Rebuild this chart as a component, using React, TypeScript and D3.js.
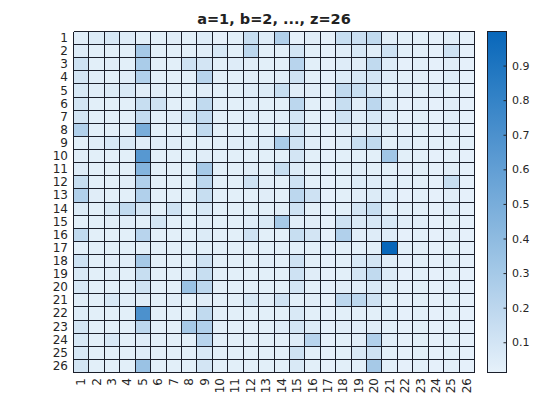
import React from "react";
import * as d3 from "d3";

const letters = d3.range(1, 27).map(String);
const titleText = "a=1, b=2, ..., z=26";
const colorTicks = [0.1, 0.2, 0.3, 0.4, 0.5, 0.6, 0.7, 0.8, 0.9];
const colorDomain = [0.014, 1.0];

// rows = first letter, columns = second letter
const r01 = [0.04,0.06,0.08,0.05,0.03,0.03,0.04,0.03,0.05,0.02,0.03,0.15,0.05,0.25,0.02,0.04,0.02,0.15,0.14,0.18,0.04,0.03,0.03,0.02,0.04,0.02];
const r02 = [0.05,0.03,0.03,0.03,0.30,0.03,0.03,0.03,0.04,0.08,0.03,0.20,0.03,0.03,0.10,0.03,0.02,0.04,0.08,0.04,0.12,0.03,0.03,0.02,0.12,0.02];
const r03 = [0.12,0.03,0.04,0.03,0.28,0.03,0.03,0.12,0.10,0.03,0.05,0.04,0.03,0.03,0.22,0.03,0.02,0.05,0.04,0.18,0.05,0.02,0.03,0.02,0.04,0.02];
const r04 = [0.10,0.04,0.03,0.04,0.25,0.03,0.03,0.03,0.22,0.03,0.03,0.04,0.03,0.04,0.12,0.03,0.02,0.06,0.08,0.10,0.05,0.03,0.03,0.02,0.05,0.02];
const r05 = [0.08,0.04,0.06,0.07,0.04,0.04,0.03,0.03,0.04,0.03,0.03,0.05,0.06,0.15,0.04,0.04,0.02,0.18,0.15,0.08,0.03,0.04,0.03,0.04,0.03,0.02];
const r06 = [0.10,0.03,0.03,0.03,0.15,0.12,0.03,0.03,0.18,0.03,0.03,0.04,0.03,0.03,0.20,0.03,0.02,0.15,0.04,0.20,0.06,0.02,0.03,0.02,0.04,0.02];
const r07 = [0.10,0.03,0.03,0.03,0.17,0.03,0.04,0.10,0.17,0.03,0.03,0.05,0.03,0.04,0.10,0.03,0.02,0.12,0.05,0.08,0.05,0.02,0.03,0.02,0.04,0.02];
const r08 = [0.25,0.03,0.03,0.03,0.50,0.03,0.03,0.03,0.18,0.03,0.03,0.03,0.03,0.03,0.10,0.03,0.02,0.04,0.04,0.06,0.04,0.02,0.03,0.02,0.04,0.02];
const r09 = [0.03,0.04,0.08,0.07,0.04,0.04,0.04,0.03,0.03,0.03,0.04,0.05,0.06,0.28,0.12,0.04,0.02,0.05,0.15,0.18,0.03,0.05,0.03,0.03,0.03,0.03];
const r10 = [0.04,0.03,0.03,0.03,0.65,0.03,0.03,0.03,0.04,0.03,0.03,0.03,0.03,0.03,0.10,0.03,0.02,0.03,0.03,0.03,0.32,0.03,0.03,0.02,0.03,0.02];
const r11 = [0.05,0.03,0.03,0.03,0.45,0.03,0.03,0.03,0.30,0.03,0.03,0.04,0.03,0.15,0.06,0.03,0.02,0.03,0.04,0.03,0.03,0.02,0.03,0.02,0.04,0.02];
const r12 = [0.15,0.03,0.03,0.04,0.25,0.03,0.03,0.03,0.20,0.03,0.03,0.12,0.04,0.03,0.12,0.03,0.02,0.03,0.06,0.05,0.04,0.03,0.03,0.02,0.15,0.02];
const r13 = [0.25,0.04,0.03,0.03,0.25,0.03,0.03,0.03,0.15,0.03,0.03,0.03,0.04,0.03,0.20,0.12,0.02,0.03,0.04,0.06,0.05,0.02,0.03,0.02,0.04,0.02];
const r14 = [0.06,0.03,0.08,0.18,0.10,0.03,0.12,0.03,0.08,0.03,0.03,0.03,0.03,0.04,0.12,0.03,0.02,0.03,0.10,0.15,0.04,0.03,0.03,0.02,0.05,0.02];
const r15 = [0.03,0.03,0.04,0.04,0.03,0.10,0.03,0.03,0.04,0.03,0.03,0.05,0.07,0.30,0.04,0.04,0.02,0.12,0.07,0.08,0.08,0.04,0.04,0.02,0.03,0.02];
const r16 = [0.18,0.03,0.03,0.03,0.22,0.03,0.03,0.03,0.06,0.03,0.03,0.12,0.03,0.03,0.15,0.10,0.02,0.25,0.04,0.05,0.05,0.02,0.03,0.02,0.04,0.02];
const r17 = [0.03,0.03,0.03,0.03,0.03,0.03,0.03,0.03,0.03,0.03,0.03,0.03,0.03,0.03,0.03,0.03,0.02,0.03,0.03,0.03,1.00,0.03,0.03,0.02,0.03,0.02];
const r18 = [0.12,0.03,0.04,0.04,0.30,0.03,0.03,0.03,0.12,0.03,0.03,0.03,0.04,0.03,0.12,0.03,0.02,0.03,0.08,0.10,0.04,0.02,0.03,0.02,0.04,0.02];
const r19 = [0.07,0.03,0.04,0.03,0.15,0.03,0.03,0.05,0.15,0.03,0.03,0.03,0.03,0.03,0.12,0.04,0.02,0.03,0.10,0.18,0.06,0.02,0.03,0.02,0.03,0.02];
const r20 = [0.08,0.03,0.03,0.03,0.12,0.03,0.03,0.35,0.20,0.03,0.03,0.03,0.03,0.03,0.10,0.03,0.02,0.04,0.04,0.07,0.04,0.02,0.03,0.02,0.04,0.02];
const r21 = [0.04,0.03,0.08,0.04,0.04,0.03,0.04,0.03,0.04,0.03,0.03,0.08,0.04,0.12,0.03,0.04,0.02,0.20,0.20,0.12,0.03,0.02,0.03,0.02,0.03,0.02];
const r22 = [0.05,0.03,0.03,0.03,0.70,0.03,0.03,0.03,0.18,0.03,0.03,0.03,0.03,0.03,0.07,0.03,0.02,0.03,0.03,0.03,0.03,0.02,0.03,0.02,0.03,0.02];
const r23 = [0.10,0.03,0.03,0.03,0.20,0.03,0.03,0.30,0.25,0.03,0.03,0.03,0.03,0.05,0.10,0.06,0.02,0.04,0.04,0.04,0.03,0.02,0.03,0.02,0.03,0.02];
const r24 = [0.08,0.03,0.08,0.03,0.05,0.03,0.03,0.03,0.22,0.03,0.03,0.03,0.03,0.03,0.05,0.22,0.02,0.03,0.04,0.25,0.04,0.02,0.03,0.02,0.03,0.02];
const r25 = [0.08,0.03,0.03,0.03,0.05,0.03,0.03,0.03,0.07,0.03,0.03,0.03,0.03,0.03,0.12,0.03,0.02,0.03,0.07,0.12,0.03,0.02,0.03,0.02,0.03,0.02];
const r26 = [0.10,0.03,0.03,0.03,0.35,0.03,0.03,0.03,0.10,0.03,0.03,0.03,0.03,0.03,0.07,0.03,0.02,0.03,0.03,0.30,0.03,0.02,0.03,0.02,0.03,0.02];
const matrix = [r01,r02,r03,r04,r05,r06,r07,r08,r09,r10,r11,r12,r13,r14,r15,r16,r17,r18,r19,r20,r21,r22,r23,r24,r25,r26];

const W = 560, H = 420;
const plot = { x0: 73.5, x1: 474.5, y0: 31.5, y1: 372.5 };
const cb = { x0: 487, x1: 506, y0: 31.5, y1: 372.5 };
const font = "DejaVu Sans, sans-serif";
const textColor = "#262626";

export default function App() {
  const x = d3.scaleBand<string>().domain(letters).range([plot.x0, plot.x1]);
  const y = d3.scaleBand<string>().domain(letters).range([plot.y0, plot.y1]);
  const color = d3.scaleLinear<string>().domain(colorDomain).range(["#e6f1fa", "#0867ba"]).interpolate(d3.interpolateRgb).clamp(true);
  const cy = d3.scaleLinear().domain(colorDomain).range([cb.y1, cb.y0]);
  const gradStops = d3.range(0, 1.0001, 0.1);

  return (
    <svg width={W} height={H} style={{ position: "absolute", left: 0, top: 0, background: "#fff" }} fontFamily={font}>
      <defs>
        <linearGradient id="cbg" x1="0" y1="1" x2="0" y2="0">
          {gradStops.map((t) => (
            <stop key={t} offset={t} stopColor={color(colorDomain[0] + t * (colorDomain[1] - colorDomain[0]))} />
          ))}
        </linearGradient>
      </defs>
      <rect x={0} y={0} width={W} height={H} fill="#fff" />
      <text x={(plot.x0 + plot.x1) / 2} y={24} textAnchor="middle" fontSize={14.5} fontWeight="bold" fill="#222">{titleText}</text>
      <g>
        {matrix.map((row, i) =>
          row.map((v, j) => (
            <rect key={`${i}-${j}`} x={x(letters[j])!} y={y(letters[i])!} width={x.bandwidth()} height={y.bandwidth()} fill={color(v)} />
          ))
        )}
      </g>
      <g stroke="#1b1f2b" strokeWidth={1} shapeRendering="crispEdges">
        {d3.range(0, 27).map((k) => (
          <line key={`v${k}`} x1={plot.x0 + k * x.step()} x2={plot.x0 + k * x.step()} y1={plot.y0} y2={plot.y1} />
        ))}
        {d3.range(0, 27).map((k) => (
          <line key={`h${k}`} y1={plot.y0 + k * y.step()} y2={plot.y0 + k * y.step()} x1={plot.x0} x2={plot.x1} />
        ))}
      </g>
      <g fontSize={12} fill={textColor}>
        {letters.map((l) => (
          <text key={`yl${l}`} x={68} y={y(l)! + y.bandwidth() / 2} textAnchor="end" dominantBaseline="central">{l}</text>
        ))}
        {letters.map((l) => (
          <text key={`xl${l}`} transform={`translate(${x(l)! + x.bandwidth() / 2},${378}) rotate(-90)`} textAnchor="end" dominantBaseline="central">{l}</text>
        ))}
      </g>
      <rect x={cb.x0} y={cb.y0} width={cb.x1 - cb.x0} height={cb.y1 - cb.y0} fill="url(#cbg)" stroke="#1b1f2b" strokeWidth={1} shapeRendering="crispEdges" />
      <g fontSize={11} fill={textColor}>
        {colorTicks.map((t) => (
          <g key={`ct${t}`}>
            <line x1={cb.x1 - 2.5} x2={cb.x1} y1={cy(t)} y2={cy(t)} stroke="#262626" strokeWidth={1} />
            <text x={cb.x1 + 6} y={cy(t)} dominantBaseline="central">{t.toFixed(1)}</text>
          </g>
        ))}
      </g>
    </svg>
  );
}
